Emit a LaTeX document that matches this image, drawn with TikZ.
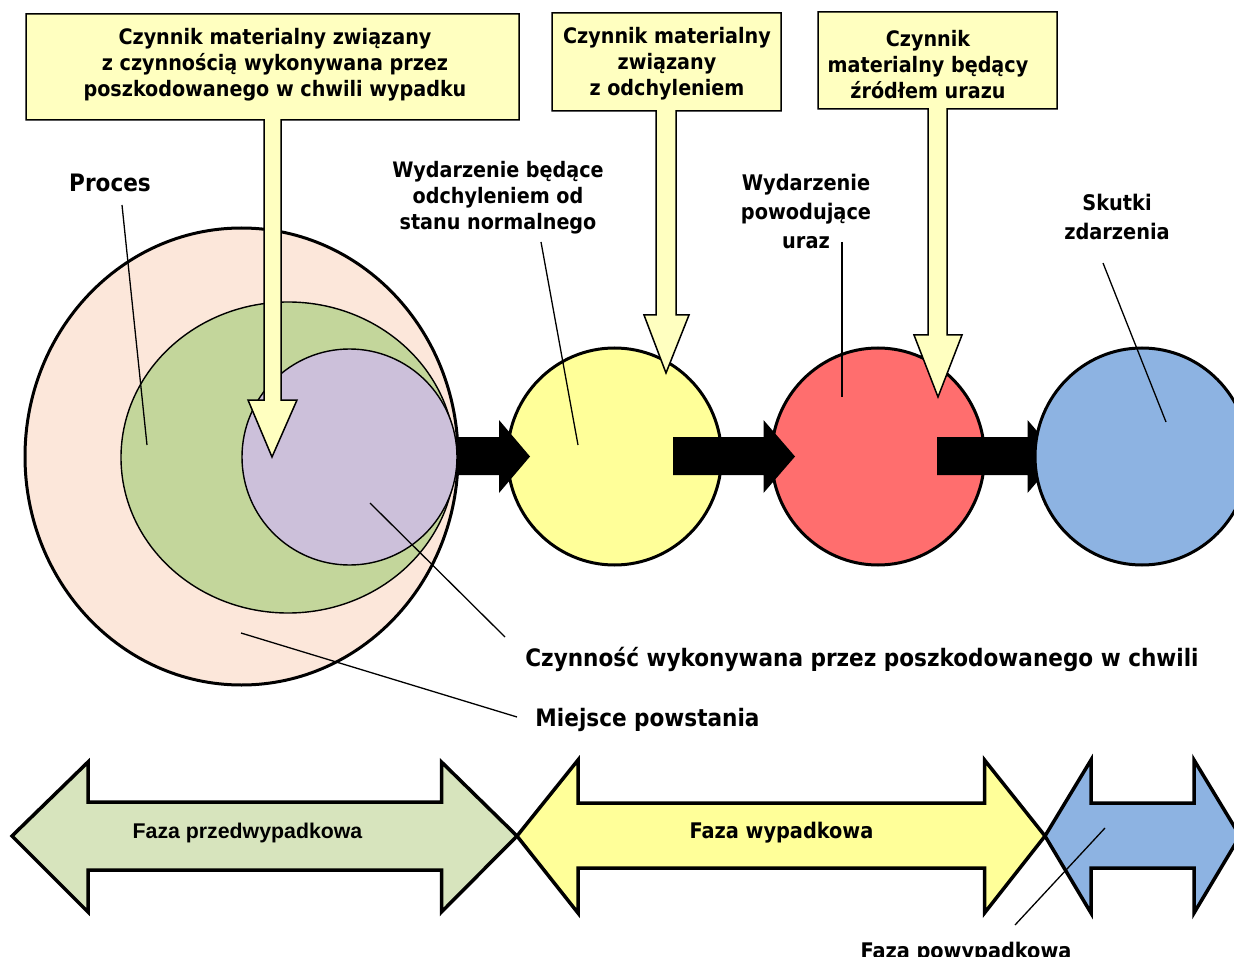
\documentclass[tikz,border=0pt]{standalone}
\usepackage{fontspec}
\usetikzlibrary{shapes.geometric}
\newfontfamily\tah{DejaVu Sans Condensed}[BoldFont={* Bold}]
\newfontfamily\ari{Liberation Sans}
\definecolor{cy}{RGB}{255,255,192}
\definecolor{peach}{RGB}{252,231,218}
\definecolor{grn}{RGB}{195,214,155}
\definecolor{lila}{RGB}{204,192,218}
\definecolor{yel}{RGB}{255,255,153}
\definecolor{rd}{RGB}{255,110,110}
\definecolor{blu}{RGB}{141,179,226}
\definecolor{lgrn}{RGB}{215,228,189}
\tikzset{
  lbl/.style={font=\tah\bfseries\fontsize{21.3}{26}\selectfont, align=center, inner sep=0pt},
  lblw/.style={lbl, font=\tah\bfseries\fontsize{21.5}{29}\selectfont},
  lblbig/.style={lbl, font=\tah\bfseries\fontsize{24}{29}\selectfont},
  ari/.style={font=\ari\bfseries\fontsize{21.3}{24}\selectfont, inner sep=0pt},
  blob/.style={ellipse, inner sep=0pt, draw=black},
  callout/.style={fill=cy, draw=black, line width=1.5pt, line join=miter},
  blk/.style={fill=black},
  phase/.style={draw=black, line width=3.5pt, line join=miter},
  ptr/.style={draw=black, line width=1.3pt},
}
\begin{document}
\begin{tikzpicture}[x=1pt,y=-1pt]
\clip (0,0) rectangle (1234,957);
\fill[white] (0,0) rectangle (1234,957);
% nested ellipses
\node[blob, fill=peach, line width=3pt, minimum width=433pt, minimum height=457pt] (proc) at (241.5,456.5) {};
\node[blob, fill=grn, line width=1.4pt, minimum width=334pt, minimum height=311pt] (miej) at (288,457.5) {};
\node[blob, fill=lila, line width=1.4pt, minimum width=215pt, minimum height=216pt] (czyn) at (349.5,457) {};
% event circles
\node[blob, fill=yel, line width=3pt, minimum width=214pt, minimum height=217pt] (odch) at (614.5,456.5) {};
\node[blob, fill=rd, line width=3pt, minimum width=213pt, minimum height=217pt] (uraz) at (878,456.5) {};
% black arrows
\path[blk] (458,437) -- (499,437) -- (499,420) -- (530,456.5) -- (499,493) -- (499,475) -- (458,475) -- cycle;
\path[blk] (673,437) -- (763.5,437) -- (763.5,420) -- (795,456.5) -- (763.5,493) -- (763.5,475) -- (673,475) -- cycle;
\path[blk] (937,437) -- (1027.5,437) -- (1027.5,420) -- (1059,456.5) -- (1027.5,493) -- (1027.5,475) -- (937,475) -- cycle;
\node[blob, fill=blu, line width=3pt, minimum width=214pt, minimum height=217pt] (skut) at (1142,456.5) {};
% callouts
\path[callout] (26,14) -- (519,14) -- (519,120) -- (281,120) -- (281,400) -- (297,400) -- (272,457) -- (248,400) -- (264,400) -- (264,120) -- (26,120) -- cycle;
\path[callout] (552,13) -- (781,13) -- (781,111) -- (676,111) -- (676,315) -- (689,315) -- (666,373) -- (644,315) -- (656,315) -- (656,111) -- (552,111) -- cycle;
\path[callout] (818,12) -- (1057,12) -- (1057,109) -- (947,109) -- (947,335) -- (962,335) -- (938,397) -- (914,335) -- (928,335) -- (928,109) -- (818,109) -- cycle;
\node[lbl] (c1) at (275,65) {Czynnik materialny związany\\z czynnością wykonywana przez\\poszkodowanego w chwili wypadku};
\node[lbl] (c2) at (667,64) {Czynnik materialny\\związany\\z odchyleniem};
\node[lbl] (c3) at (928,65) {Czynnik\\materialny będący\\źródłem urazu};
% labels
\node[lblbig] (lproc) at (110,183) {Proces};
\node[lbl] (lodch) at (498,198) {Wydarzenie będące\\odchyleniem od\\stanu normalnego};
\node[lblw] (luraz) at (806,211) {Wydarzenie\\powodujące\\uraz};
\node[lblw] (lskut) at (1117,217) {Skutki\\zdarzenia};
\node[lblbig] (lczyn) at (862,659) {Czynność wykonywana przez poszkodowanego w chwili};
\node[lblbig] (lmiej) at (647.5,720) {Miejsce powstania};
% pointer lines
\coordinate (p1a) at (122,205); \coordinate (p1b) at (147,445);
\coordinate (p2a) at (541,242); \coordinate (p2b) at (578,445);
\coordinate (p3a) at (842,242); \coordinate (p3b) at (842,397);
\coordinate (p4a) at (1103,263); \coordinate (p4b) at (1166,422);
\coordinate (p5a) at (505,637); \coordinate (p5b) at (370,503);
\coordinate (p6a) at (517,717); \coordinate (p6b) at (241,633);
\draw[ptr] (p1a) -- (p1b);
\draw[ptr] (p2a) -- (p2b);
\draw[ptr] (p3a) -- (p3b);
\draw[ptr] (p4a) -- (p4b);
\draw[ptr] (p5a) -- (p5b);
\draw[ptr] (p6a) -- (p6b);
% phase arrows
\path[phase, fill=lgrn] (12,836) -- (88,762) -- (88,802) -- (441.5,802) -- (441.5,762) -- (517,836) -- (441.5,912) -- (441.5,870) -- (88,870) -- (88,912) -- cycle;
\path[phase, fill=yel] (517,836) -- (578,760) -- (578,803) -- (984.5,803) -- (984.5,760) -- (1045,836) -- (984.5,913) -- (984.5,868) -- (578,868) -- (578,913) -- cycle;
\path[phase, fill=blu] (1045,836) -- (1091,760) -- (1091,803) -- (1194,803) -- (1194,760) -- (1240,836) -- (1194,913) -- (1194,868) -- (1091,868) -- (1091,913) -- cycle;
\node[ari] (fprzed) at (247.5,833) {Faza przedwypadkowa};
\node[lblw] (fwyp) at (781.5,833) {Faza wypadkowa};
\node[lblw, anchor=base] (fpo) at (966,958) {Faza powypadkowa};
\coordinate (p7a) at (1015,925); \coordinate (p7b) at (1105,828);
\draw[ptr] (p7a) -- (p7b);
\end{tikzpicture}
\end{document}
